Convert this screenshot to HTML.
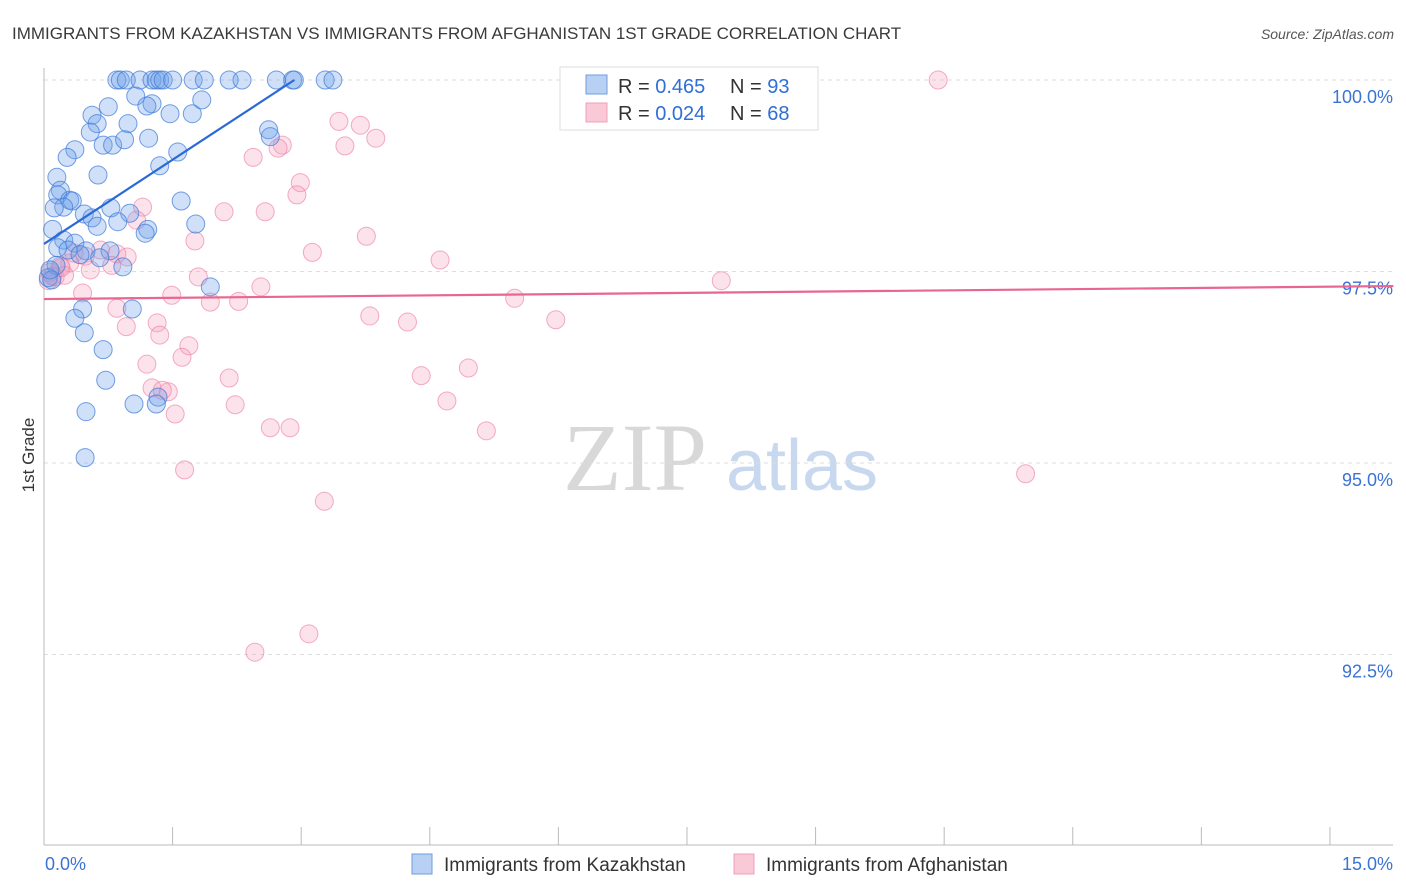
<!DOCTYPE html>
<html><head><meta charset="utf-8"><style>
body{margin:0;background:#fff;font-family:"Liberation Sans",sans-serif}
svg{display:block}
</style></head><body>
<svg id="chart" width="1406" height="892">
<text x="12" y="39" font-size="17" fill="#3a3a3a">IMMIGRANTS FROM KAZAKHSTAN VS IMMIGRANTS FROM AFGHANISTAN 1ST GRADE CORRELATION CHART</text>
<text x="1394" y="39" font-size="14" fill="#555" font-style="italic" text-anchor="end">Source: ZipAtlas.com</text>
<text transform="translate(34,455) rotate(-90)" font-size="17" fill="#333" text-anchor="middle">1st Grade</text>
<g><text x="635" y="490" font-size="96" fill="#d8d8d8" font-family="Liberation Serif,serif" text-anchor="middle">ZIP</text><text x="802" y="490" font-size="72" fill="#c8d8ef" text-anchor="middle">atlas</text></g>
<g id="grid"></g><g id="axes"></g><g id="pts"></g><g id="trends"></g>
<g>
<rect x="560" y="67" width="258" height="63" fill="#fff" stroke="#ddd"/>
<rect x="586" y="75" width="21" height="19" fill="#b8d0f4" stroke="#6f9ee0"/>
<rect x="586" y="103" width="21" height="19" fill="#f9c9d8" stroke="#f0a0b8"/>
<text x="618" y="93" font-size="20" fill="#333">R = <tspan fill="#2f6fd6">0.465</tspan></text>
<text x="730" y="93" font-size="20" fill="#333">N = <tspan fill="#2f6fd6">93</tspan></text>
<text x="618" y="120" font-size="20" fill="#333">R = <tspan fill="#2f6fd6">0.024</tspan></text>
<text x="730" y="120" font-size="20" fill="#333">N = <tspan fill="#2f6fd6">68</tspan></text>
</g>
<g>
<rect x="412" y="854" width="20" height="20" fill="#b8d0f4" stroke="#6f9ee0"/>
<text x="444" y="871" font-size="19" fill="#333">Immigrants from Kazakhstan</text>
<rect x="734" y="854" width="20" height="20" fill="#f9c9d8" stroke="#f0a0b8"/>
<text x="766" y="871" font-size="19" fill="#333">Immigrants from Afghanistan</text>
</g>
</svg>
<script>
const xTicks=[0,1.5,3,4.5,6,7.5,9,10.5,12,13.5,15];
const yTicks=[100,97.5,95,92.5];
const yTickLabels=["100.0%","97.5%","95.0%","92.5%"];
const xEndLabels=["0.0%","15.0%"];
const blueX=[0.85,0.89,0.96,1.12,1.26,1.31,1.35,1.39,1.50,1.74,1.87,2.16,2.31,2.71,2.90,2.92,3.28,3.37,1.07,0.75,1.26,1.20,1.47,1.73,1.84,0.56,0.62,0.54,0.98,1.22,0.69,0.80,0.94,1.56,0.36,0.27,1.35,0.63,0.15,0.19,0.16,0.30,0.33,0.23,0.12,1.60,0.78,0.47,0.56,0.62,1.00,1.77,1.21,1.18,0.86,0.10,0.23,0.36,0.16,0.28,0.49,0.77,0.65,0.42,0.92,0.14,0.05,0.09,1.94,0.45,1.03,0.36,0.47,0.69,0.72,1.05,1.33,1.31,0.49,0.48,2.62,2.64,0.07];
const blueY=[100,100,100,100,100,100,100,100,100,100,100,100,100,100,100,100,100,100,99.79,99.65,99.69,99.66,99.56,99.56,99.74,99.54,99.43,99.32,99.43,99.24,99.15,99.15,99.22,99.06,99.09,98.99,98.88,98.76,98.73,98.56,98.50,98.43,98.42,98.34,98.33,98.42,98.33,98.25,98.20,98.09,98.26,98.12,98.05,98.00,98.15,98.05,97.91,97.87,97.81,97.78,97.77,97.77,97.68,97.72,97.56,97.58,97.42,97.39,97.30,97.01,97.01,96.89,96.70,96.48,96.08,95.77,95.86,95.77,95.67,95.07,99.35,99.26,97.52];
const pinkX=[10.43,3.44,3.69,3.87,3.51,2.78,2.73,2.44,2.99,2.95,1.15,2.10,2.58,1.08,3.76,1.76,3.13,4.62,0.66,0.85,0.97,0.35,0.48,0.79,0.30,0.19,0.07,0.13,0.05,0.24,0.54,7.90,1.80,2.53,1.49,0.45,2.27,1.94,5.49,0.85,3.80,4.24,5.97,0.96,1.32,1.35,1.69,1.61,1.20,2.16,4.40,4.95,1.26,1.45,4.70,2.23,1.53,5.16,2.64,2.87,1.64,11.45,3.27,3.09,2.46,0.10,0.20,1.38,6.88];
const pinkY=[100,99.46,99.41,99.24,99.14,99.15,99.11,98.99,98.66,98.50,98.34,98.28,98.28,98.17,97.96,97.90,97.75,97.65,97.78,97.73,97.69,97.74,97.70,97.58,97.61,97.57,97.49,97.43,97.38,97.45,97.52,97.38,97.43,97.30,97.19,97.22,97.11,97.10,97.15,97.02,96.92,96.84,96.87,96.78,96.83,96.67,96.53,96.38,96.29,96.11,96.14,96.24,95.98,95.93,95.81,95.76,95.64,95.42,95.46,95.46,94.91,94.86,94.50,92.77,92.53,97.44,97.55,95.95,100.05];
const blueTrend=[0,97.86,2.92,100];
const pinkTrend=[0,97.14,15.74,97.31];
const NS="http://www.w3.org/2000/svg";
const sx=v=>44+v*85.73, sy=v=>80+(100-v)*76.6;
function mk(t,a,p){const e=document.createElementNS(NS,t);for(const k in a)e.setAttribute(k,a[k]);document.getElementById(p).appendChild(e);return e;}
yTicks.forEach((t,i)=>{
 const g=mk('line',{x1:44,x2:1393,y1:sy(t),y2:sy(t),stroke:'#ddd','stroke-dasharray':'4,4'},'grid');
 
 
 const l=mk('text',{x:1393,y:sy(t)+23,'font-size':18,fill:'#3b73d4','text-anchor':'end'},'axes');
 l.textContent=yTickLabels[i];
 
 
});
const ax=mk('line',{x1:44,x2:44,y1:68,y2:845,stroke:'#bbb'},'axes');


const bx=mk('line',{x1:44,x2:1393,y1:845,y2:845,stroke:'#bbb'},'axes');


xTicks.forEach(t=>{
 const k=mk('line',{x1:sx(t),x2:sx(t),y1:827,y2:845,stroke:'#bbb'},'axes');
 
 
});
[[xTicks[0],'start',45],[xTicks[10],'end',1393]].forEach((d,i)=>{
 const l=mk('text',{x:d[2],y:870,'font-size':18,fill:'#3b73d4','text-anchor':d[1]},'axes');
 l.textContent=xEndLabels[i];
 
 
});
pinkX.forEach((x,i)=>{
 const c=mk('circle',{cx:sx(x),cy:sy(pinkY[i]),r:9,fill:'rgba(244,160,188,0.3)',stroke:'rgba(236,120,160,0.6)','stroke-width':1},'pts');
 
 
});
blueX.forEach((x,i)=>{
 const c=mk('circle',{cx:sx(x),cy:sy(blueY[i]),r:9,fill:'rgba(110,160,235,0.33)',stroke:'rgba(60,120,215,0.7)','stroke-width':1},'pts');
 
 
});
const tb=mk('line',{x1:sx(blueTrend[0]),y1:sy(blueTrend[1]),x2:sx(blueTrend[2]),y2:sy(blueTrend[3]),stroke:'#2a6ad6','stroke-width':2.2},'trends');


const tp=mk('line',{x1:sx(pinkTrend[0]),y1:sy(pinkTrend[1]),x2:sx(pinkTrend[2]),y2:sy(pinkTrend[3]),stroke:'#e8668f','stroke-width':2.2},'trends');


</script>
</body></html>
